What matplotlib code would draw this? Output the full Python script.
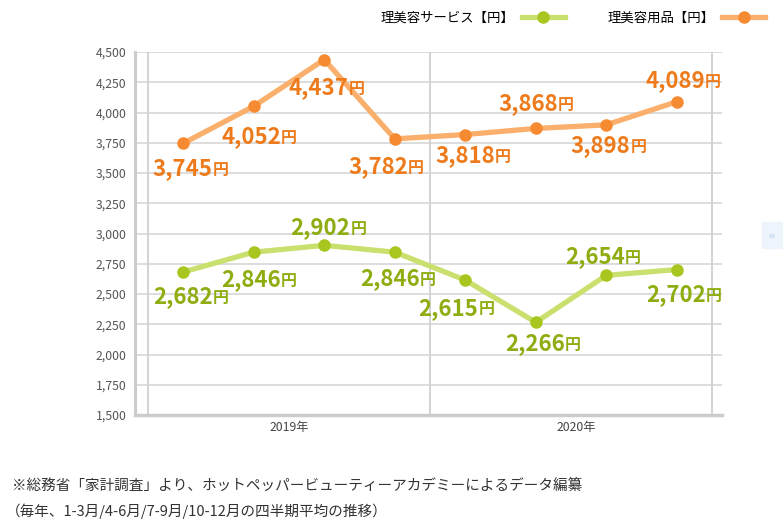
import matplotlib
matplotlib.use('Agg')
import matplotlib.pyplot as plt
from matplotlib.patches import Rectangle, Circle

plt.rcParams['font.family'] = ['Noto Sans CJK JP', 'DejaVu Sans']

# data: quarterly averages 2019 Q1 - 2020 Q4
quarters = ['2019 1-3月', '2019 4-6月', '2019 7-9月', '2019 10-12月',
            '2020 1-3月', '2020 4-6月', '2020 7-9月', '2020 10-12月']
service = [2682, 2846, 2902, 2846, 2615, 2266, 2654, 2702]
goods = [3745, 4052, 4437, 3782, 3818, 3868, 3898, 4089]
years = ['2019年', '2020年']
year_pos = [1.5, 5.57]
yticks = list(range(1500, 4501, 250))

# label offsets in pixels (junction of number and 円) relative to point
goods_off = [(29, -25), (27, -30), (24, -28), (13, -28), (30, -21), (22, 25), (24, -21), (28, 21)]
service_off = [(30, -25), (27, -27), (26, 18), (25, -26), (13, -28), (29, -21), (19, 19), (29, -25)]

c_goods_line, c_goods_mk, c_goods_txt = '#FAB06C', '#F68A31', '#EE7B1B'
c_serv_line, c_serv_mk, c_serv_txt = '#C9E06F', '#A7C61F', '#8DAD10'

fig = plt.figure(figsize=(7.83, 5.2), dpi=100)
ax = fig.add_axes([135 / 783, 1 - 415 / 520, (722 - 135) / 783, (415 - 52) / 520])

x = list(range(len(quarters)))
ax.set_xlim(-0.5 - 13 / 70.5, 7.5 + 10 / 70.5)
ax.set_ylim(1500, 4500)

for yv in yticks:
    ax.axhline(yv, color='#DADADA', lw=1.3, zorder=1)
for xv in [-0.5, 3.5, 7.5]:
    ax.axvline(xv, color='#D0D0D0', lw=1.3, zorder=1)

ln1, = ax.plot(x, service, color=c_serv_line, lw=3.8, marker='o', ms=8,
               mfc=c_serv_mk, mec=c_serv_mk, zorder=3, label='理美容サービス【円】')
ln2, = ax.plot(x, goods, color=c_goods_line, lw=3.8, marker='o', ms=8,
               mfc=c_goods_mk, mec=c_goods_mk, zorder=3, label='理美容用品【円】')

def add_labels(vals, offs, color):
    for xi, v, (dx, dy) in zip(x, vals, offs):
        ax.annotate(f'{v:,}', (xi, v), xytext=(dx * 0.72, dy * 0.72),
                    textcoords='offset points', ha='right', va='center',
                    fontsize=16, fontweight='bold', color=color, zorder=4)
        ax.annotate('円', (xi, v), xytext=(dx * 0.72, dy * 0.72 - 1),
                    textcoords='offset points', ha='left', va='center',
                    fontsize=11.5, fontweight='bold', color=color, zorder=4)

add_labels(goods, goods_off, c_goods_txt)
add_labels(service, service_off, c_serv_txt)

ax.set_yticks(yticks)
ax.set_yticklabels([f'{v:,}' for v in yticks], fontsize=8.8, color='#555555')
ax.set_xticks(year_pos)
ax.set_xticklabels(years, fontsize=8.8, color='#444444')
ax.tick_params(axis='both', length=0, pad=6)
ax.tick_params(axis='x', pad=4)

for s in ['top', 'right']:
    ax.spines[s].set_visible(False)
ax.spines['left'].set_color('#CCCCCC')
ax.spines['left'].set_linewidth(2.2)
ax.spines['bottom'].set_color('#CCCCCC')
ax.spines['bottom'].set_linewidth(2.5)

fig.legend(handles=[ln1, ln2], loc='center right', bbox_to_anchor=(777 / 783, 1 - 18 / 520),
           ncol=2, frameon=False, markerfirst=False, fontsize=9.6,
           handlelength=3.2, columnspacing=3.2, handletextpad=0.6)

fig.text(12 / 783, 1 - 487 / 520, '※総務省「家計調査」より、ホットペッパービューティーアカデミーによるデータ編纂',
         fontsize=10.5, color='#333333', va='center', ha='left')
fig.text(6 / 783, 1 - 511 / 520, '（毎年、1-3月/4-6月/7-9月/10-12月の四半期平均の推移）',
         fontsize=10.5, color='#333333', va='center', ha='left')

# faint widget at the right edge
fig.patches.append(Rectangle((762 / 783, 1 - 248 / 520), 21 / 783, 26 / 520,
                             transform=fig.transFigure, color='#EEF4FB', zorder=0))
fig.patches.append(Circle((772 / 783, 1 - 236 / 520), 0.003, transform=fig.transFigure,
                          color='#D6E3F3', zorder=1))

fig.savefig('out.png', dpi=100)
